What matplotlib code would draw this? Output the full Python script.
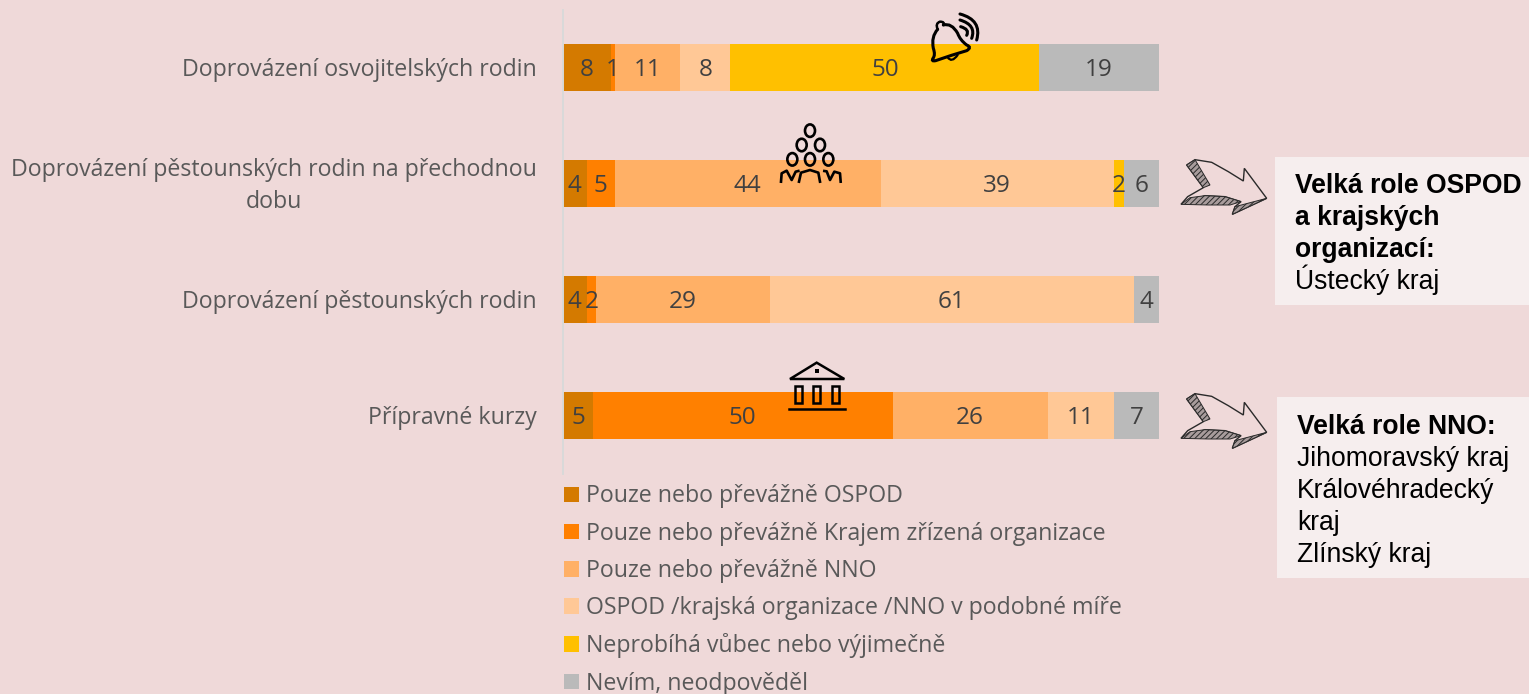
import matplotlib
matplotlib.use("Agg")
import matplotlib.pyplot as plt
from matplotlib.patches import Rectangle, Polygon, Ellipse, PathPatch
from matplotlib.path import Path
from matplotlib.transforms import ScaledTranslation
import numpy as np

W, H = 1529, 694
plt.rcParams['font.family'] = ['Open Sans', 'DejaVu Sans']
plt.rcParams['hatch.linewidth'] = 0.7

kategorie = ["Doprovázení osvojitelských rodin",
             "Doprovázení pěstounských rodin na přechodnou\ndobu",
             "Doprovázení pěstounských rodin",
             "Přípravné kurzy"]

# sirky useku (%), popisky zvlast - v originale nesedi presne
ospod = [8.1, 4.0, 4.0, 5.0]
kraj = [0.6, 4.7, 1.5, 50.3]
nno = [11.0, 44.6, 29.2, 26.0]
podobne = [8.4, 39.1, 61.1, 11.1]
neprobiha = [51.8, 1.7, 0, 0]
nevim = [20.1, 5.9, 4.2, 7.6]

popisky_ospod = ["8", "4", "4", "5"]
popisky_kraj = ["1", "5", "2", "50"]
popisky_nno = ["11", "44", "29", "26"]
popisky_podobne = ["8", "39", "61", "11"]
popisky_neprobiha = ["50", "2", "", ""]
popisky_nevim = ["19", "6", "4", "7"]

nazvy = ["Pouze nebo převážně OSPOD",
         "Pouze nebo převážně Krajem zřízená organizace",
         "Pouze nebo převážně NNO",
         "OSPOD /krajská organizace /NNO v podobné míře",
         "Neprobíhá vůbec nebo výjimečně",
         "Nevím, neodpověděl"]
barvy = ["#D47A00", "#FF8000", "#FFB066", "#FFC896", "#FFC000", "#BABABA"]

serie = [ospod, kraj, nno, podobne, neprobiha, nevim]
popisky = [popisky_ospod, popisky_kraj, popisky_nno, popisky_podobne, popisky_neprobiha, popisky_nevim]

pozadi = "#EFD9D9"
fig = plt.figure(figsize=(W / 100, H / 100), dpi=100, facecolor=pozadi)

# graf
ax = fig.add_axes([563 / W, 1 - 473.5 / H, 596 / W, 464 / H], facecolor="none")
y = np.arange(len(kategorie))
vlevo = np.zeros(len(kategorie))
for hodnoty, text, barva, nazev in zip(serie, popisky, barvy, nazvy):
    bars = ax.barh(y, hodnoty, left=vlevo, height=0.405, color=barva, label=nazev)
    lab = ax.bar_label(bars, labels=text, label_type="center", color="#404040", fontsize=17.5)
    for t in lab:
        t.xyann = (0, -1.5)
    vlevo = vlevo + np.array(hodnoty)

ax.set_xlim(0, 100)
ax.set_ylim(3.5, -0.5)
ax.set_yticks(y)
ax.set_yticklabels(kategorie, fontsize=16.7, color="#595959", multialignment="center", linespacing=1.5)
ax.tick_params(axis="y", length=0, pad=19)
ax.xaxis.set_visible(False)
for s in ["top", "right", "bottom"]:
    ax.spines[s].set_visible(False)
ax.spines["left"].set_color("#D9D9D9")
ax.spines["left"].set_linewidth(1.4)

# popisky o par pixelu vys, dvouradkovy vic
for lbl, posun in zip(ax.get_yticklabels(), [1, 5, 1, 1]):
    lbl.set_transform(lbl.get_transform() + ScaledTranslation(0, posun / 100, fig.dpi_scale_trans))

ax.legend(loc="upper left", bbox_to_anchor=(564 / W, 1 - 484.5 / H), bbox_transform=fig.transFigure,
          frameon=False, fontsize=16.7, labelcolor="#595959", handlelength=0.65, handleheight=0.65,
          handletextpad=0.32, labelspacing=0.57, borderaxespad=0, borderpad=0)

# vrstva v pixelech na ikony, sipky a ramecky
ov = fig.add_axes([0, 0, 1, 1], facecolor="none")
ov.set_xlim(0, W)
ov.set_ylim(H, 0)
ov.axis("off")

# ramecky s textem
ov.add_patch(Rectangle((1275, 157), 254, 148, color="#F6EEEE", lw=0))
ov.add_patch(Rectangle((1277, 397), 252, 181, color="#F6EEEE", lw=0))


def ramecek(x, y0, radky):
    for i, (t, tucne) in enumerate(radky):
        ov.text(x, y0 + i * 32.1, t, family="Liberation Sans", fontsize=19.1, color="#000000",
                fontweight="bold" if tucne else "normal", va="baseline", ha="left")


ramecek(1295, 193, [("Velká role OSPOD", True), ("a krajských", True), ("organizací:", True), ("Ústecký kraj", False)])
ramecek(1297, 433.5, [("Velká role NNO:", True), ("Jihomoravský kraj", False), ("Královéhradecký", False),
                      ("kraj", False), ("Zlínský kraj", False)])


# sipka, body z vyrezu (3x)
def sipka(dy):
    def p(body):
        return [(1175 + a / 3, 155 + b / 3 + dy) for a, b in body]
    obrys = [(35, 30), (60, 14), (110, 22), (160, 50), (205, 78), (208, 40), (275, 130), (172, 178), (180, 155),
             (198, 140), (150, 125), (90, 122), (18, 148), (38, 125), (85, 98)]
    ov.add_patch(Polygon(p(obrys), closed=True, fc="none", ec="#2A2A2A", lw=1))
    for pas in ([(35, 30), (60, 14), (105, 90), (85, 98)],
                [(18, 148), (45, 128), (90, 122), (150, 125), (198, 140), (165, 150), (100, 150)],
                [(172, 178), (180, 155), (275, 130)]):
        ov.add_patch(Polygon(p(pas), closed=True, fc="#A89C9C", ec="#2A2A2A", lw=0.7, hatch="//////"))


sipka(0)
sipka(234)


def cara(body, x0, y0, lw=2.2):
    # hladka cara pres body z vyrezu (3x), kazde dva useky jsou jedna kvadraticka krivka
    b = [(x0 + a / 3, y0 + c / 3) for a, c in body]
    kody = [Path.MOVETO] + [Path.CURVE3] * (len(b) - 1)
    ov.add_patch(PathPatch(Path(b, kody), fc="none", ec="black", lw=lw, capstyle="round"))


# zvonek
cara([(38, 58), (18, 80), (25, 115), (32, 135), (24, 145), (18, 155), (32, 152), (80, 135), (125, 122), (142, 112),
      (125, 105), (105, 90), (98, 70), (80, 38), (55, 45)], 925, 10)
cara([(38, 58), (30, 40), (45, 35), (60, 35), (55, 45)], 925, 10, lw=1.8)
cara([(68, 142), (80, 160), (98, 135)], 925, 10, lw=1.6)
cara([(105, 12), (172, 30), (155, 90)], 925, 10)
cara([(105, 30), (155, 45), (140, 85)], 925, 10)
cara([(107, 50), (135, 58), (125, 76)], 925, 10)

# lidi
for a, b in [(105, 32), (80, 75), (135, 75), (52, 118), (105, 118), (160, 118)]:
    ov.add_patch(Ellipse((775 + a / 3, 120 + b / 3), 10, 12.5, fc="none", ec="black", lw=1.9))
for ramena in ([(18, 185), (20, 160), (35, 152), (50, 180), (62, 155), (70, 153)],
               [(72, 185), (78, 158), (105, 150), (130, 158), (135, 185)],
               [(148, 153), (155, 154), (165, 180), (178, 155), (195, 160), (197, 185)]):
    ov.plot([775 + a / 3 for a, b in ramena], [120 + b / 3 for a, b in ramena], color="black", lw=1.9,
            solid_joinstyle="round")


# budova
def z4(a, b):
    return 550 + a / 3, 350 + b / 3


ov.add_patch(Polygon([z4(720, 87), z4(800, 38), z4(883, 87)], closed=True, fc="none", ec="black", lw=1.8))
ov.add_patch(Rectangle(z4(795, 57), 4, 4, color="black", lw=0))
for a in (735, 790, 845):
    ov.add_patch(Rectangle(z4(a, 107), 7, 17, fc="none", ec="black", lw=1.8))
ov.plot(*zip(z4(718, 177), z4(884, 177)), color="black", lw=1.8)

fig.savefig("out.png", dpi=100, facecolor=pozadi)
